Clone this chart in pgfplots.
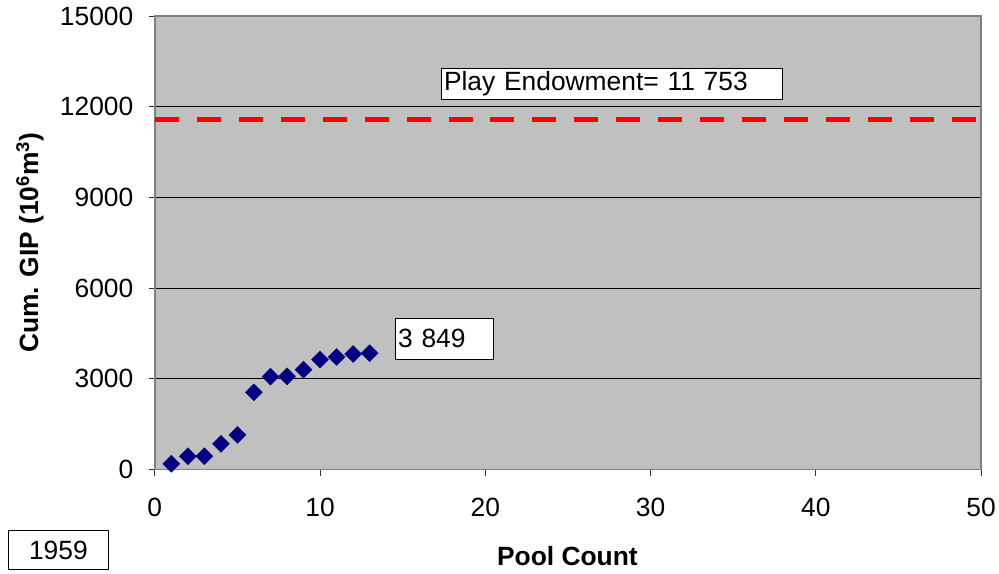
\documentclass[border=0pt]{standalone}
\usepackage{pgfplots}
\pgfplotsset{compat=1.18}
\usepackage{fontspec}
\setmainfont{Liberation Sans}
\definecolor{plotgray}{HTML}{C0C0C0}
\definecolor{navyblue}{HTML}{000080}

\begin{document}
\begin{tikzpicture}
\begin{axis}[
    scale only axis,
    width=827bp, height=454bp,
    xmin=0, xmax=50, ymin=0, ymax=15000,
    xtick={0,10,...,50},
    ytick={0,3000,...,15000},
    /pgf/number format/assume math mode=true,
    scaled y ticks=false,
    yticklabel style={/pgf/number format/1000 sep=, xshift=-12bp},
    xticklabel style={yshift=-19bp},
    tick label style={font=\fontsize{26.5}{30}\selectfont},
    label style={font=\fontsize{26.5}{30}\selectfont\bfseries},
    xlabel={Pool Count},
    ylabel={Cum. GIP (10\textsuperscript{6}m\textsuperscript{3})},
    xlabel style={at={(rel axis cs:0.4994,-0.1916)}, anchor=center},
    ylabel style={at={(rel axis cs:-0.1511,0.5)}, anchor=center},
    tick align=outside,
    major tick length=6bp,
    xtick pos=bottom, ytick pos=left,
    axis background/.style={fill=plotgray},
    axis line style={draw=gray, line width=1.8bp},
    tick style={black!80, line width=0.8bp},
    ymajorgrids,
    grid style={black, line width=0.8bp},
    clip=false,
]
% invisible frame to give the picture the reference proportions
\path (rel axis cs:-0.1874,-0.2291) rectangle (rel axis cs:1.0206,1.0352);

\addplot[only marks, mark=square*, mark size=6bp,
    mark options={rotate=45, fill=navyblue, draw=navyblue}]
coordinates {
    (1, 188) (2, 440) (3, 440) (4, 849) (5, 1146) (6, 2555)
    (7, 3073) (8, 3084) (9, 3304) (10, 3634) (11, 3722) (12, 3822) (13, 3849)
};

\addplot[red, line width=5bp, dash pattern=on 24bp off 18bp]
coordinates {(0, 11560) (50, 11560)};

\node[draw=black, line width=1bp, fill=white, anchor=north west,
    text width=336bp, inner xsep=3bp, minimum height=30bp, align=left,
    font=\fontsize{26.5}{30}\selectfont]
    at (axis cs:17.29,13282) {Play Endowment= 11 753};
\node[draw=black, line width=1bp, fill=white, anchor=north west,
    text width=93bp, inner xsep=3bp, minimum height=41bp, align=left,
    font=\fontsize{26.5}{30}\selectfont]
    at (axis cs:14.51,5022) {3 849};
\node[draw=black, line width=1bp, fill=white, anchor=north west,
    minimum width=100bp, minimum height=39bp, align=center,
    font=\fontsize{26.5}{30}\selectfont]
    at (axis cs:-8.89,-2015) {1959};
\end{axis}
\end{tikzpicture}
\end{document}
